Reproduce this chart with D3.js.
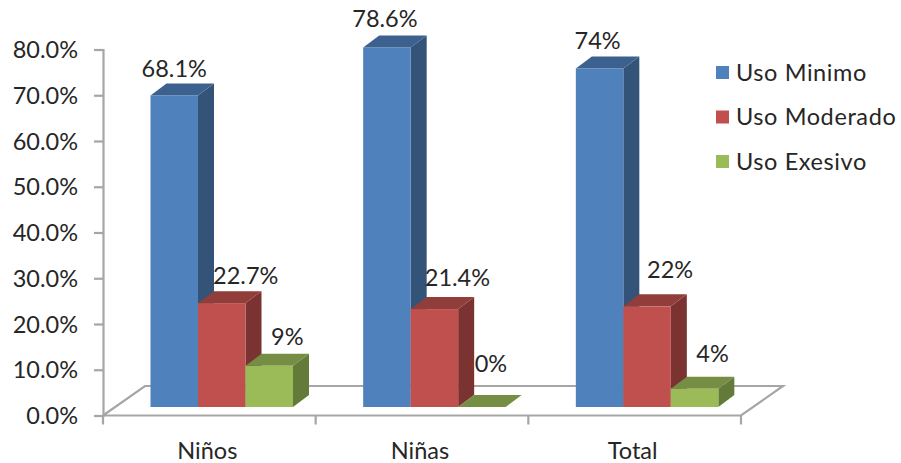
<!DOCTYPE html>
<html><head><meta charset="utf-8">
<script src="https://cdn.jsdelivr.net/npm/d3@7"></script>
<style>html,body{margin:0;background:#fff}svg{display:block}text{font-family:"Lato",sans-serif;fill:#262626}</style>
</head><body><svg id="c" width="901" height="463"></svg>
<script>
const categories = ["Niños","Niñas","Total"];
const seriesNames = ["Uso Minimo","Uso Moderado","Uso Exesivo"];
const usoMinimo = [68.1,78.6,74];
const usoModerado = [22.7,21.4,22];
const usoExesivo = [9,0,4];
const valueLabels = [["68.1%","78.6%","74%"],["22.7%","21.4%","22%"],["9%","0%","4%"]];
const yTicks = [0,10,20,30,40,50,60,70,80];
const series = [usoMinimo,usoModerado,usoExesivo];
const colors = [
 {front:"#4f81bd",top:"#3c618f",side:"#335379"},
 {front:"#c0504d",top:"#913d3a",side:"#7b3331"},
 {front:"#9bbb59",top:"#758e43",side:"#647a39"}];
const labelNudge = [[[0,-18],[-2,-20],[-2,-19]],[[24,-19],[23,-23],[23,-28]],[[18,-21],[9,-35],[18,-27]]];

const svg = d3.select("#c");
const y = d3.scaleLinear().domain([0,80]).range([415.5,49.5]);
const x = d3.scaleBand().domain(categories).range([103,741]).padding(0);
const barW = 47.5, depth = {x:16,y:-12}, floorDepth = {x:42,y:-29.5}, baseLift = 8.5;
const grey = "#a6a6a6", fs = 23.5;

// floor
const x0=x.range()[0], x1=x.range()[1], y0=y(0);
svg.append("path").attr("fill","none").attr("stroke",grey).attr("stroke-width",2.2)
 .attr("d",d3.line()([[x0,y0],[x0+floorDepth.x,y0+floorDepth.y],[x1+floorDepth.x,y0+floorDepth.y],[x1,y0],[x0,y0]]));

// y axis
const yAxis = d3.axisLeft(y).tickValues(yTicks).tickSize(9).tickPadding(16).tickFormat(d=>d.toFixed(1)+"%");
const gy = svg.append("g").attr("transform",`translate(${x0},0)`).call(yAxis);
const xAxis = d3.axisBottom(x).tickSize(10).tickPadding(16).tickValues(categories);
const gx = svg.append("g").attr("transform",`translate(0,${y0})`).call(xAxis);
gx.selectAll(".tick").remove();
x.domain().concat(["_end"]).forEach((c,i)=>{
  const px=x0+i*x.step();
  gx.append("line").attr("x1",px).attr("x2",px).attr("y1",0).attr("y2",9).attr("stroke",grey).attr("stroke-width",2.2);
});
categories.forEach(c=>gx.append("text").attr("x",x(c)+x.step()/2-2).attr("y",43).attr("text-anchor","middle").attr("font-size",fs).text(c));
gx.select(".domain").remove();
gy.select(".domain").attr("stroke",grey).attr("stroke-width",2.2);
gy.selectAll("line").attr("stroke",grey).attr("stroke-width",2.2);
gy.selectAll("text").attr("font-size",fs).attr("dy","0.35em").attr("text-anchor","end");

// bars
const groupOffset = 47.5;
categories.forEach((c,ci)=>{
  series.forEach((vals,si)=>{
    const l = x(c)+groupOffset+si*barW, r=l+barW, b=y(0)-baseLift, t=y(vals[ci])-baseLift;
    const g = svg.append("g"), col=colors[si], dx=depth.x, dy=depth.y;
    g.append("path").attr("fill",col.side).attr("d",d3.line()([[r,b],[r+dx,b+dy],[r+dx,t+dy],[r,t]]));
    g.append("path").attr("fill",col.top).attr("d",d3.line()([[l,t],[l+dx,t+dy],[r+dx,t+dy],[r,t]]));
    g.append("rect").attr("x",l).attr("y",t).attr("width",barW).attr("height",b-t).attr("fill",col.front);
  });
});
// labels
categories.forEach((c,ci)=>{
  series.forEach((vals,si)=>{
    const n=labelNudge[si][ci];
    svg.append("text").attr("x",x(c)+groupOffset+si*barW+barW/2+n[0]).attr("y",y(vals[ci])-baseLift+n[1])
      .attr("text-anchor","middle").attr("font-size",fs).text(valueLabels[si][ci]);
  });
});
// legend
const legendY = d3.scalePoint().domain(seriesNames).range([72.5,161.5]);
seriesNames.forEach((n,i)=>{
  svg.append("rect").attr("x",716).attr("y",legendY(n)-6.5).attr("width",13).attr("height",13).attr("fill",colors[i].front);
  svg.append("text").attr("x",736).attr("y",legendY(n)+8).attr("font-size",fs).attr("letter-spacing",0.6).text(n);
});
</script></body></html>
